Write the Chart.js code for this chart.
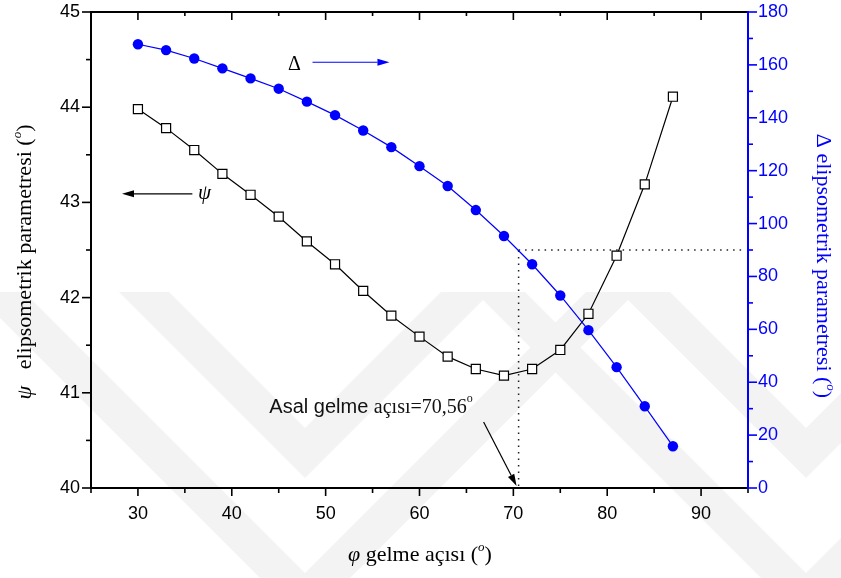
<!DOCTYPE html>
<html>
<head>
<meta charset="utf-8">
<script src="https://cdn.jsdelivr.net/npm/chart.js@4.4.1/dist/chart.umd.min.js"></script>
<style>
  html, body { margin: 0; padding: 0; background: #fff; }
  #chart { display: block; }
</style>
</head>
<body>
<canvas id="chart" width="841" height="578"></canvas>
<script>
/* ── data ───────────────────────────── */
const angles     = [30, 33, 36, 39, 42, 45, 48, 51, 54, 57, 60, 63, 66, 69, 72, 75, 78, 81, 84, 87];
const psiValues  = [43.98, 43.78, 43.55, 43.30, 43.08, 42.85, 42.59, 42.35, 42.07, 41.81,
                    41.59, 41.38, 41.25, 41.18, 41.25, 41.45, 41.83, 42.44, 43.19, 44.11];
const deltaValues = [167.8, 165.6, 162.4, 158.7, 154.9, 151.0, 146.1, 141.0, 135.2, 128.9,
                     121.7, 114.2, 105.1, 95.3, 84.6, 72.8, 59.7, 45.7, 30.9, 15.8];
const xTicks     = [30, 40, 50, 60, 70, 80, 90];
const psiTicks   = [40, 41, 42, 43, 44, 45];
const deltaTicks = [0, 20, 40, 60, 80, 100, 120, 140, 160, 180];
const principalAngle = 70.56;   // Asal gelme açısı
const principalDelta = 90;

const BLUE = '#0000ff';
const SANS = '"Liberation Sans", Arial, sans-serif';
const SERIF = '"Liberation Serif", "Times New Roman", serif';

/* ── helpers ────────────────────────── */
function line(ctx, x1, y1, x2, y2) {
  ctx.beginPath(); ctx.moveTo(x1, y1); ctx.lineTo(x2, y2); ctx.stroke();
}
function arrow(ctx, x1, y1, x2, y2, color) {
  ctx.save();
  ctx.strokeStyle = color; ctx.fillStyle = color; ctx.lineWidth = 1.2;
  const a = Math.atan2(y2 - y1, x2 - x1), L = 12, W = 3.5;
  const bx = x2 - L * Math.cos(a), by = y2 - L * Math.sin(a);
  line(ctx, x1, y1, bx, by);
  ctx.beginPath();
  ctx.moveTo(x2, y2);
  ctx.lineTo(bx + W * Math.sin(a), by - W * Math.cos(a));
  ctx.lineTo(bx - W * Math.sin(a), by + W * Math.cos(a));
  ctx.closePath(); ctx.fill();
  ctx.restore();
}
// text made of several runs (italic, superscript ...), centred on 0
function runs(ctx, parts, cx, cy, rot, color, align) {
  ctx.save();
  ctx.translate(cx, cy); ctx.rotate(rot);
  ctx.fillStyle = color; ctx.textBaseline = 'alphabetic'; ctx.textAlign = 'left';
  let total = 0;
  parts.forEach(p => { ctx.font = p.font; p.w = ctx.measureText(p.t).width; total += p.w; });
  let x = align === 'left' ? 0 : -total / 2;
  parts.forEach(p => { ctx.font = p.font; ctx.fillText(p.t, x, p.dy || 0); x += p.w; });
  ctx.restore();
}
function ticksFrom(list) {
  return scale => { scale.ticks = list.map(v => ({ value: v })); };
}

/* ── background watermark (faint chevrons) ── */
function chevron(ctx, cx, tip, thick, top) {
  const h = tip - top, hi = tip - thick - top;
  ctx.beginPath();
  ctx.moveTo(cx - h, top); ctx.lineTo(cx, tip); ctx.lineTo(cx + h, top);
  ctx.lineTo(cx + hi, top); ctx.lineTo(cx, tip - thick); ctx.lineTo(cx - hi, top);
  ctx.closePath(); ctx.fill();
}
const backdrop = {
  id: 'backdrop',
  beforeDraw(chart) {
    const ctx = chart.ctx;
    ctx.save();
    ctx.fillStyle = '#fff';
    ctx.fillRect(0, 0, chart.width, chart.height);
    ctx.fillStyle = '#f3f3f3';
    [305, 806].forEach(cx => {
      chevron(ctx, cx, 478, 50, 292);
      chevron(ctx, cx, 623, 50, 292);
    });
    ctx.restore();
  },
  beforeDatasetsDraw(chart) {
    const { ctx, scales: { x, y1 } } = chart;
    const px = x.getPixelForValue(principalAngle);
    const py = y1.getPixelForValue(principalDelta);
    ctx.save();
    ctx.strokeStyle = '#222'; ctx.lineWidth = 1.5; ctx.setLineDash([1.5, 5]);
    line(ctx, px, chart.chartArea.bottom - 2, px, py);
    line(ctx, px, py, chart.chartArea.right - 4, py);
    ctx.restore();
  }
};

/* ── frame, ticks, titles, notes ─────── */
const frame = {
  id: 'frame',
  afterDraw(chart) {
    const { ctx, chartArea: a, scales: { x, y, y1 } } = chart;
    ctx.save();
    ctx.lineWidth = 2; ctx.strokeStyle = '#000';
    line(ctx, a.left, a.top, a.left, a.bottom + 1);
    line(ctx, a.left - 1, a.top, a.right, a.top);
    line(ctx, a.left - 1, a.bottom, a.right, a.bottom);
    ctx.lineWidth = 1.6;
    for (let v = 25; v <= 95; v += 5) {
      const p = x.getPixelForValue(v), major = v % 10 === 0;
      line(ctx, p, a.bottom, p, a.bottom + (major ? 8 : 5));
      line(ctx, p, a.top, p, a.top + (major ? 8 : 4));
    }
    for (let v = 40; v <= 45; v += 0.5) {
      const p = y.getPixelForValue(v), major = Number.isInteger(v);
      line(ctx, a.left, p, a.left - (major ? 9 : 5), p);
    }
    ctx.strokeStyle = BLUE; ctx.lineWidth = 2;
    line(ctx, a.right, a.top - 1, a.right, a.bottom + 1);
    ctx.lineWidth = 1.6;
    for (let v = 0; v <= 180; v += 10) {
      const p = y1.getPixelForValue(v), major = v % 20 === 0;
      line(ctx, a.right, p, a.right + (major ? 9 : 5), p);
    }
    ctx.restore();

    // axis titles
    const f = s => `${s}px ${SERIF}`, fi = s => `italic ${s}px ${SERIF}`;
    runs(ctx, [
      { t: 'ψ', font: fi(22) }, { t: '   elipsometrik parametresi (', font: f(22) },
      { t: 'o', font: fi(13), dy: -10 }, { t: ')', font: f(22) }
    ], 31, 262, -Math.PI / 2, '#000');
    runs(ctx, [
      { t: 'Δ elipsometrik parametresi (', font: f(22) },
      { t: 'o', font: fi(13), dy: -10 }, { t: ')', font: f(22) }
    ], 817, 266, Math.PI / 2, BLUE);
    runs(ctx, [
      { t: 'φ', font: fi(22) }, { t: ' gelme açısı (', font: f(22) },
      { t: 'o', font: fi(13), dy: -10 }, { t: ')', font: f(22) }
    ], 420, 561, 0, '#000');

    // series notes
    runs(ctx, [{ t: 'Δ', font: f(20) }], x.getPixelForValue(46), y1.getPixelForValue(158), 0, '#000', 'left');
    arrow(ctx, x.getPixelForValue(48.6), y1.getPixelForValue(161),
               x.getPixelForValue(56.8), y1.getPixelForValue(161), BLUE);
    runs(ctx, [{ t: 'ψ', font: fi(21) }], x.getPixelForValue(36.4), y.getPixelForValue(43.04), 0, '#000', 'left');
    arrow(ctx, x.getPixelForValue(35.8), y.getPixelForValue(43.09),
               x.getPixelForValue(28.3), y.getPixelForValue(43.09), '#000');

    // principal angle note
    const tx = x.getPixelForValue(44.0), ty = y.getPixelForValue(40.79);
    runs(ctx, [
      { t: 'Asal gelme ', font: `20px ${SANS}` }, { t: 'açısı=70,56', font: f(20) },
      { t: 'o', font: f(12), dy: -11 }
    ], tx, ty, 0, '#111', 'left');
    const ax = x.getPixelForValue(principalAngle) - 2, ay = y.getPixelForValue(40) - 2;
    arrow(ctx, ax - 33, ay - 64, ax, ay, '#000');
  }
};

/* ── chart ──────────────────────────── */
const tickFont = { family: SANS, size: 18 };

new Chart(document.getElementById('chart'), {
  type: 'line',
  data: {
    datasets: [
      {
        label: 'Δ',
        yAxisID: 'y1',
        data: angles.map((a, i) => ({ x: a, y: deltaValues[i] })),
        borderColor: BLUE, borderWidth: 1.2,
        pointStyle: 'circle', pointRadius: 5.2,
        pointBackgroundColor: BLUE, pointBorderColor: BLUE, pointBorderWidth: 0,
        tension: 0
      },
      {
        label: 'ψ',
        yAxisID: 'y',
        data: angles.map((a, i) => ({ x: a, y: psiValues[i] })),
        borderColor: '#000', borderWidth: 1.2,
        pointStyle: 'rect', pointRadius: 6.4,
        pointBackgroundColor: '#fff', pointBorderColor: '#000', pointBorderWidth: 1.2,
        tension: 0
      }
    ]
  },
  options: {
    responsive: false,
    animation: false,
    layout: { padding: { top: 12, left: 0, right: 0, bottom: 0 } },
    plugins: { legend: { display: false }, tooltip: { enabled: false } },
    scales: {
      x: {
        type: 'linear', min: 25, max: 95,
        afterBuildTicks: ticksFrom(xTicks),
        afterFit: s => { s.height = 90; s.paddingLeft = 0; s.paddingRight = 0; },
        grid: { display: false, drawTicks: false },
        border: { display: false },
        ticks: { font: tickFont, color: '#000', padding: 15, maxRotation: 0 }
      },
      y: {
        type: 'linear', position: 'left', min: 40, max: 45,
        afterBuildTicks: ticksFrom(psiTicks),
        afterFit: s => { s.width = 91; s.paddingTop = 0; s.paddingBottom = 0; },
        grid: { display: false, drawTicks: false },
        border: { display: false },
        ticks: { font: tickFont, color: '#000', padding: 11 }
      },
      y1: {
        type: 'linear', position: 'right', min: 0, max: 180,
        afterBuildTicks: ticksFrom(deltaTicks),
        afterFit: s => { s.width = 93; s.paddingTop = 0; s.paddingBottom = 0; },
        grid: { display: false, drawTicks: false },
        border: { display: false },
        ticks: { font: tickFont, color: BLUE, padding: 10 }
      }
    }
  },
  plugins: [backdrop, frame]
});
</script>
</body>
</html>
